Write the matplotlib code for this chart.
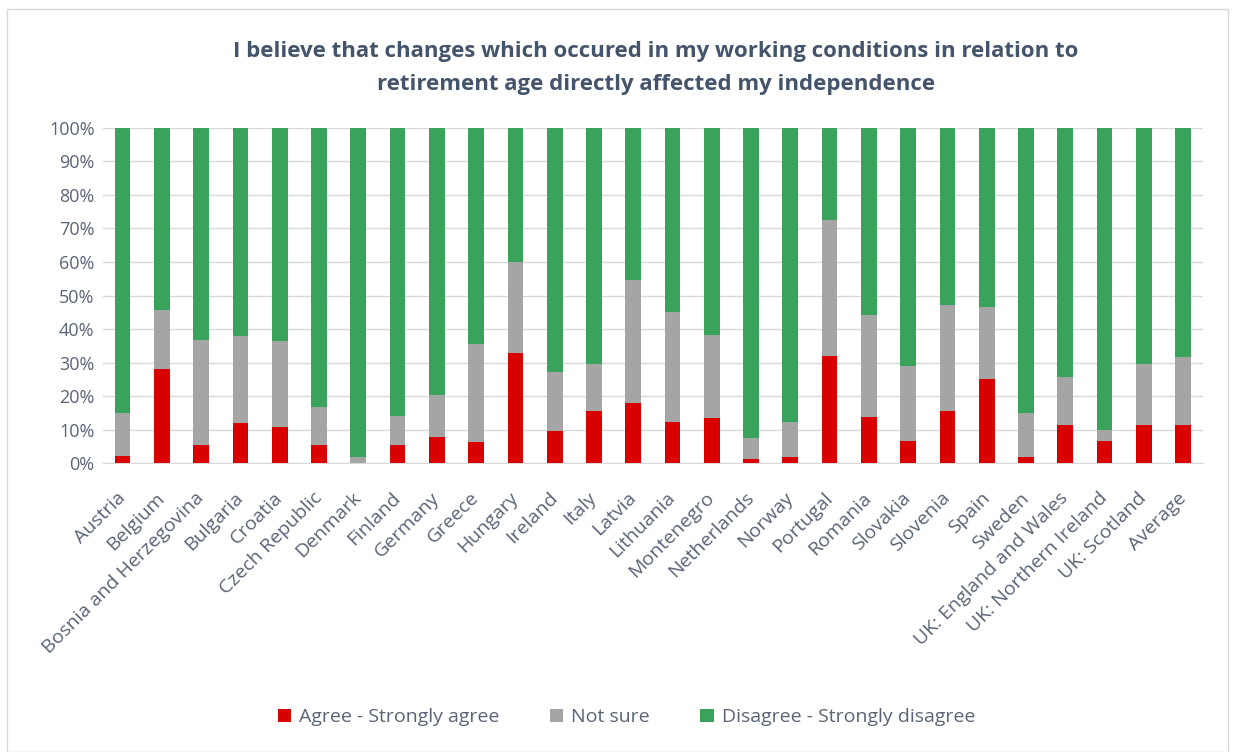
import matplotlib.pyplot as plt
from matplotlib.patches import Rectangle
import numpy as np

countries = [
    "Austria", "Belgium", "Bosnia and Herzegovina", "Bulgaria", "Croatia",
    "Czech Republic", "Denmark", "Finland", "Germany", "Greece", "Hungary",
    "Ireland", "Italy", "Latvia", "Lithuania", "Montenegro", "Netherlands",
    "Norway", "Portugal", "Romania", "Slovakia", "Slovenia", "Spain",
    "Sweden", "UK: England and Wales", "UK: Northern Ireland", "UK: Scotland",
    "Average",
]
# percentages
agree = [2.3, 28.1, 5.4, 11.9, 10.7, 5.4, 0.0, 5.4, 7.7, 6.2, 32.8, 9.6, 15.7,
         17.9, 12.2, 13.4, 1.2, 1.8, 32.0, 13.7, 6.5, 15.7, 25.2, 1.8, 11.4,
         6.5, 11.4, 11.4]
not_sure = [12.8, 17.7, 31.2, 26.1, 25.6, 11.3, 2.0, 8.7, 12.5, 29.3, 27.1,
            17.5, 14.0, 36.6, 32.9, 24.7, 6.3, 10.6, 40.4, 30.6, 22.4, 31.6,
            21.3, 13.3, 14.2, 3.3, 18.3, 20.2]
disagree = [100 - a - n for a, n in zip(agree, not_sure)]

series = ["Agree - Strongly agree", "Not sure", "Disagree - Strongly disagree"]
colors = ["#D90000", "#A5A5A5", "#3AA35B"]
title = ("I believe that changes which occured in my working conditions in relation to\n"
         "retirement age directly affected my independence")

plt.rcParams["font.family"] = ["Open Sans", "DejaVu Sans"]
text_col = "#5A6476"

fig = plt.figure(figsize=(12.33, 7.52), dpi=100)
ax = fig.add_axes([0.0835, 0.384, 0.892, 0.446])

x = np.arange(len(countries))
bottom = np.zeros(len(countries))
for vals, lab, c in zip([agree, not_sure, disagree], series, colors):
    ax.bar(x, vals, 0.4, bottom=bottom, color=c, label=lab, zorder=3)
    bottom += np.array(vals)

ax.set_xlim(-0.5, len(countries) - 0.5)
ax.set_ylim(0, 100)
ax.set_yticks(np.arange(0, 101, 10))
ax.set_yticklabels([f"{v}%" for v in range(0, 101, 10)], fontsize=13, color=text_col)
ax.set_xticks(x)
ax.set_xticklabels(countries, rotation=45, ha="right", va="center",
                   rotation_mode="anchor", fontsize=14, color=text_col)
ax.tick_params(axis="x", length=0, pad=23)
ax.tick_params(axis="y", length=0, pad=6)
ax.grid(axis="y", color="#D9D9D9", linewidth=1, zorder=0)
for s in ["top", "right", "left"]:
    ax.spines[s].set_visible(False)
ax.spines["bottom"].set_color("#D9D9D9")

fig.text(0.532, 0.9095, title, ha="center", va="center", fontsize=16,
         fontweight="bold", color="#44546A", linespacing=1.8)

fig.legend(loc="center", bbox_to_anchor=(0.508, 0.046), ncol=3, frameon=False,
           fontsize=14, handlelength=0.7, handleheight=0.7, handletextpad=0.4,
           columnspacing=2.6, labelcolor=text_col)

fig.patches.append(Rectangle((0.006, 0.0), 0.99, 0.988, transform=fig.transFigure,
                             fill=False, edgecolor="#D9D9D9", linewidth=1))

fig.savefig("out.png", dpi=100)
